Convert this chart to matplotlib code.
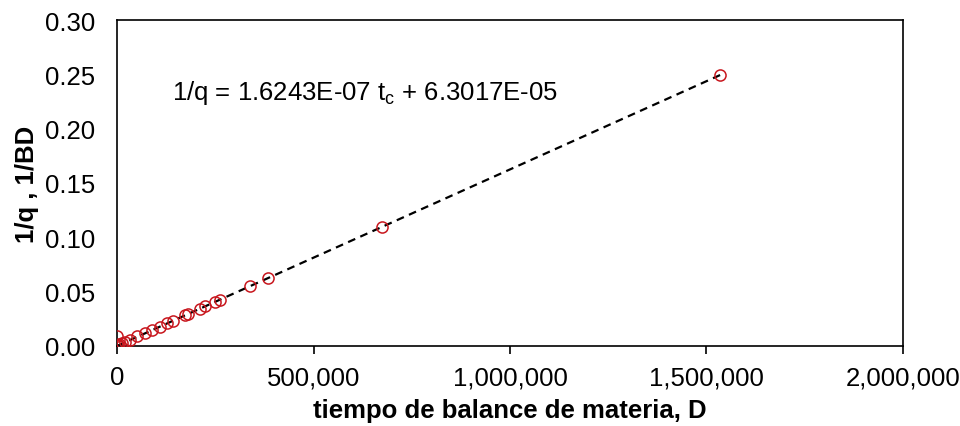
import numpy as np
import matplotlib.pyplot as plt
from matplotlib.ticker import FuncFormatter

plt.rcParams['font.family'] = ['Liberation Sans', 'DejaVu Sans']

# data
tiempo = [0, 2000, 6000, 12000, 20000, 0,
          33000, 51000, 71000, 89000, 109000, 127000, 143000,
          173000, 181000, 211000, 224000, 249000, 262000,
          339000, 384000, 674000, 1535000]
inv_q = [0.0005, 0.0010, 0.0015, 0.0025, 0.0035, 0.0095,
         0.0058, 0.0088, 0.0116, 0.0145, 0.0178, 0.0207, 0.0233,
         0.0282, 0.0295, 0.0343, 0.0364, 0.0405, 0.0426,
         0.0551, 0.0625, 0.1095, 0.2494]

slope = 1.6243E-07
intercept = 6.3017E-05

fig = plt.figure(figsize=(9.6, 4.27), dpi=100)
ax = fig.add_axes([0.1219, 0.1874, 0.8187, 0.7634])

x_fit = np.array([0, max(tiempo)])
ax.plot(x_fit, slope * x_fit + intercept, color='black', linestyle=(0, (3.5, 2.5)),
        linewidth=1.6, zorder=2)
ax.plot(tiempo, inv_q, linestyle='none', marker='o', markersize=8,
        markerfacecolor='none', markeredgecolor='#c8161d', markeredgewidth=1.1, zorder=3)

ax.set_xlim(0, 2000000)
ax.set_ylim(0, 0.30)
ax.set_xticks([0, 500000, 1000000, 1500000, 2000000])
ax.set_yticks(np.arange(0, 0.31, 0.05))
ax.xaxis.set_major_formatter(FuncFormatter(lambda v, p: '{:,.0f}'.format(v)))
ax.yaxis.set_major_formatter(FuncFormatter(lambda v, p: '{:.2f}'.format(v)))
ax.tick_params(axis='x', direction='out', length=6, width=1.2, labelsize=18.5, pad=8)
ax.tick_params(axis='y', length=0, labelsize=18.5, pad=16)

for s in ax.spines.values():
    s.set_linewidth(1.2)

ax.set_xlabel('tiempo de balance de materia, D', fontsize=18.5, fontweight='bold', labelpad=6)
ax.set_ylabel('1/q , 1/BD', fontsize=18.5, fontweight='bold', labelpad=4)

ax.text(0.07, 0.78, r'1/q = 1.6243E-07 t$_\mathregular{c}$ + 6.3017E-05',
        transform=ax.transAxes, fontsize=18.5, va='center', ha='left')

fig.savefig('out.png', dpi=100)
